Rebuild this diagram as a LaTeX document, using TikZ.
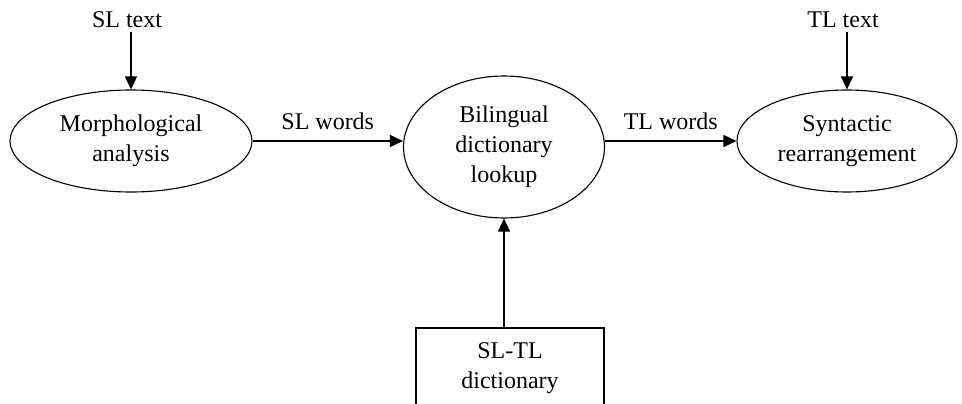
\documentclass[tikz,border=0pt]{standalone}
\usepackage{fontspec}
\setmainfont{Liberation Serif}
\usetikzlibrary{shapes.geometric,arrows.meta}

\tikzset{
  stage/.style={ellipse,draw,line width=1.1pt,inner sep=0pt,align=center},
  source/.style={rectangle,draw,line width=1.1pt,inner sep=0pt,align=center},
  flow/.style={-{Triangle[length=13pt,width=12pt]},line width=1.5pt},
}

\begin{document}
\begin{tikzpicture}[x=1pt,y=-1pt,font=\fontsize{24}{30}\selectfont]
  \useasboundingbox (0,0) rectangle (962,404);
  % the three stages
  \node[stage,minimum width=242pt,minimum height=102pt] (morph) at (131,141)
    {Morphological\\analysis};
  \node[stage,minimum width=201pt,minimum height=142pt] (lookup) at (504,147)
    {Bilingual\\dictionary\\lookup};
  \node[stage,minimum width=220pt,minimum height=102pt] (synt) at (847,141)
    {Syntactic\\rearrangement};
  % input, output and the dictionary
  \node (sltext) at (127,20) {SL text};
  \node (tltext) at (843,20) {TL text};
  \node[source,minimum width=188pt,minimum height=80pt] (dict) at (510,368)
    {SL-TL\\dictionary};
  % connectors
  \draw[flow] (sltext.south -| morph.north) -- (morph.north);
  \draw[flow] (tltext.south -| synt.north) -- (synt.north);
  \draw[flow] (morph.east) -- (morph.east -| lookup.west)
    node[midway,above=7pt] (slw) {SL words};
  \draw[flow] (synt.west -| lookup.east) -- (synt.west)
    node[midway,above=7pt] (tlw) {TL words};
  \draw[flow] (dict.north -| lookup.south) -- (lookup.south);
\end{tikzpicture}
\end{document}
